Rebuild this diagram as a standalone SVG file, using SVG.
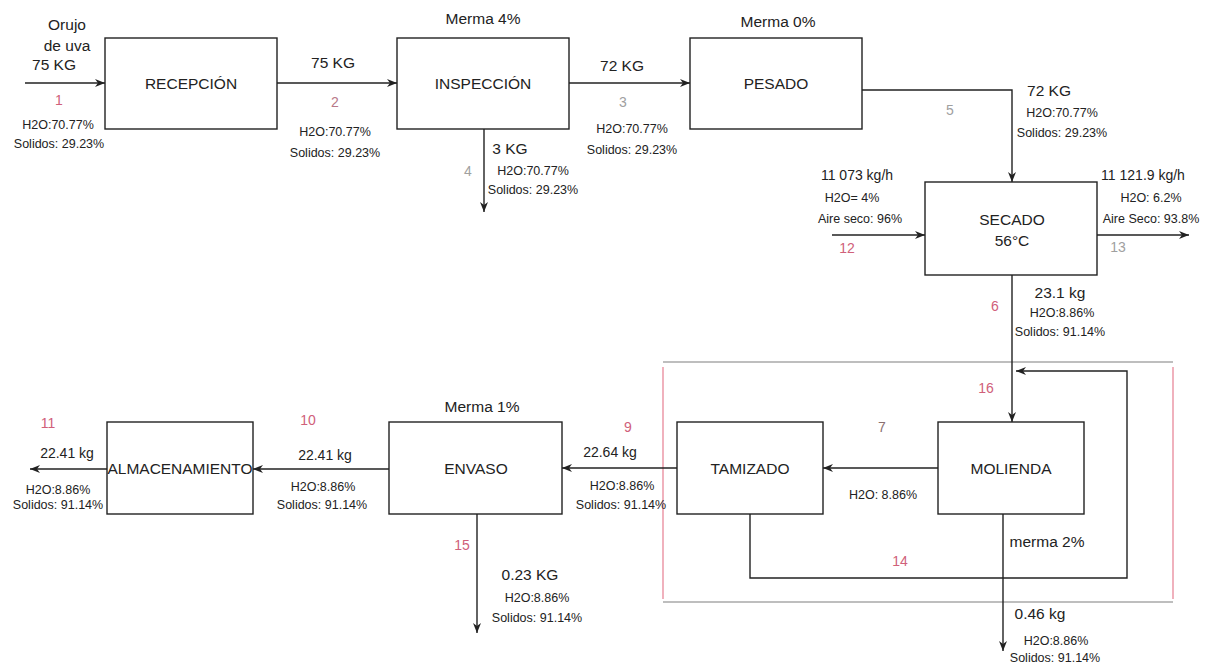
<svg xmlns="http://www.w3.org/2000/svg" width="1206" height="666" viewBox="0 0 1206 666">
<style>
.box{fill:#fff;stroke:#222;stroke-width:1.4}
.c{fill:none;stroke:#222;stroke-width:1.4}
text{font-family:"Liberation Sans",Arial,sans-serif;fill:#222}
.t{font-size:15.5px;text-anchor:middle}
.s{font-size:12.5px;text-anchor:middle}
.n{font-size:14px;text-anchor:middle;fill:#d0607a}
.g{font-size:14px;text-anchor:middle;fill:#a0a0a0}
</style>
<defs>
<marker id="ar" viewBox="0 0 10 8" refX="10" refY="4" markerWidth="10" markerHeight="8" markerUnits="userSpaceOnUse" orient="auto">
<path d="M0,0 L10,4 L0,8 L3,4 z" fill="#222"/>
</marker>
</defs>
<rect width="1206" height="666" fill="#fff"/>
<g id="loop-frame">
<line x1="663" y1="362" x2="1173" y2="362" stroke="#a8a8a8" stroke-width="1.3"/>
<line x1="663" y1="602" x2="1173" y2="602" stroke="#a8a8a8" stroke-width="1.3"/>
<line x1="663" y1="367" x2="663" y2="599" stroke="#e8889a" stroke-width="1.3"/>
<line x1="1173" y1="367" x2="1173" y2="599" stroke="#e8889a" stroke-width="1.3"/>
</g>
<g id="connectors">
<path class="c" d="M25,83 H105" marker-end="url(#ar)"/>
<path class="c" d="M277,83 H397" marker-end="url(#ar)"/>
<path class="c" d="M569,83 H690" marker-end="url(#ar)"/>
<path class="c" d="M484,129 V212" marker-end="url(#ar)"/>
<path class="c" d="M862,90 H1012 V182" marker-end="url(#ar)"/>
<path class="c" d="M832,235 H925" marker-end="url(#ar)"/>
<path class="c" d="M1097,235 H1189" marker-end="url(#ar)"/>
<path class="c" d="M1012,275 V422" marker-end="url(#ar)"/>
<path class="c" d="M938,468 H823" marker-end="url(#ar)"/>
<path class="c" d="M750,514 V578 H1127 V371 H1016" marker-end="url(#ar)"/>
<path class="c" d="M1003,514 V651" marker-end="url(#ar)"/>
<path class="c" d="M677,468 H562" marker-end="url(#ar)"/>
<path class="c" d="M477,514 V633" marker-end="url(#ar)"/>
<path class="c" d="M389,469 H253" marker-end="url(#ar)"/>
<path class="c" d="M107,469 H30" marker-end="url(#ar)"/>
</g>
<g id="recepcion"><rect class="box" x="105" y="38" width="172" height="91"/><text class="t" x="191" y="89">RECEPCIÓN</text></g>
<g id="inspeccion"><rect class="box" x="397" y="38" width="172" height="91"/><text class="t" x="483" y="89">INSPECCIÓN</text><text class="t" x="483" y="24">Merma 4%</text></g>
<g id="pesado"><rect class="box" x="690" y="38" width="172" height="91"/><text class="t" x="776" y="89">PESADO</text><text class="t" x="778" y="27">Merma 0%</text></g>
<g id="secado"><rect class="box" x="925" y="182" width="172" height="93"/><text class="t" x="1012" y="225">SECADO</text><text class="t" x="1012" y="246">56°C</text></g>
<g id="molienda"><rect class="box" x="938" y="422" width="146" height="92"/><text class="t" x="1011" y="474">MOLIENDA</text></g>
<g id="tamizado"><rect class="box" x="677" y="422" width="146" height="92"/><text class="t" x="750" y="474">TAMIZADO</text></g>
<g id="envaso"><rect class="box" x="389" y="422" width="173" height="92"/><text class="t" x="476" y="474">ENVASO</text><text class="t" x="482" y="412">Merma 1%</text></g>
<g id="almacenamiento"><rect class="box" x="107" y="422" width="146" height="92"/><text class="t" x="180" y="474" textLength="145" lengthAdjust="spacingAndGlyphs">ALMACENAMIENTO</text></g>
<g id="labels">
<text class="t" x="67" y="30">Orujo</text>
<text class="t" x="67" y="51">de uva</text>
<text class="t" x="54" y="70">75 KG</text>
<text class="n" x="59" y="105">1</text>
<text class="s" x="58" y="129">H2O:70.77%</text>
<text class="s" x="59" y="148">Solidos: 29.23%</text>
<text class="t" x="333" y="68">75 KG</text>
<text class="n" x="335" y="107" style="fill:#b87888">2</text>
<text class="s" x="335" y="136">H2O:70.77%</text>
<text class="s" x="335" y="157">Solidos: 29.23%</text>
<text class="t" x="622" y="71">72 KG</text>
<text class="g" x="623" y="107">3</text>
<text class="s" x="632" y="133">H2O:70.77%</text>
<text class="s" x="632" y="154">Solidos: 29.23%</text>
<text class="g" x="468" y="176">4</text>
<text class="t" x="510" y="154">3 KG</text>
<text class="s" x="533" y="175">H2O:70.77%</text>
<text class="s" x="533" y="194">Solidos: 29.23%</text>
<text class="g" x="950" y="115">5</text>
<text class="t" x="1049" y="96">72 KG</text>
<text class="s" x="1062" y="117">H2O:70.77%</text>
<text class="s" x="1062" y="137">Solidos: 29.23%</text>
<text class="t" x="857" y="180" style="font-size:14px">11 073 kg/h</text>
<text class="s" x="852" y="202">H2O= 4%</text>
<text class="s" x="860" y="223">Aire seco: 96%</text>
<text class="n" x="847" y="253">12</text>
<text class="t" x="1143" y="180" style="font-size:14px">11 121.9 kg/h</text>
<text class="s" x="1151" y="202">H2O: 6.2%</text>
<text class="s" x="1151" y="223">Aire Seco: 93.8%</text>
<text class="g" x="1118" y="252">13</text>
<text class="n" x="995" y="311">6</text>
<text class="t" x="1060" y="298">23.1 kg</text>
<text class="s" x="1062" y="317">H2O:8.86%</text>
<text class="s" x="1060" y="336">Solidos: 91.14%</text>
<text class="n" x="986" y="393">16</text>
<text class="g" x="882" y="432" style="fill:#8a7070">7</text>
<text class="s" x="883" y="499">H2O: 8.86%</text>
<text class="n" x="900" y="566">14</text>
<text class="t" x="1047" y="547">merma 2%</text>
<text class="t" x="1040" y="619">0.46 kg</text>
<text class="s" x="1056" y="645">H2O:8.86%</text>
<text class="s" x="1055" y="662">Solidos: 91.14%</text>
<text class="n" x="628" y="432">9</text>
<text class="t" x="610" y="457" style="font-size:14px">22.64 kg</text>
<text class="s" x="622" y="490">H2O:8.86%</text>
<text class="s" x="621" y="509">Solidos: 91.14%</text>
<text class="n" x="462" y="550">15</text>
<text class="t" x="530" y="580">0.23 KG</text>
<text class="s" x="537" y="602">H2O:8.86%</text>
<text class="s" x="537" y="622">Solidos: 91.14%</text>
<text class="n" x="308" y="425">10</text>
<text class="t" x="325" y="460" style="font-size:14px">22.41 kg</text>
<text class="s" x="323" y="491">H2O:8.86%</text>
<text class="s" x="322" y="509">Solidos: 91.14%</text>
<text class="n" x="48" y="428">11</text>
<text class="t" x="67" y="458" style="font-size:14px">22.41 kg</text>
<text class="s" x="58" y="494">H2O:8.86%</text>
<text class="s" x="58" y="509">Solidos: 91.14%</text>
</g>
</svg>
